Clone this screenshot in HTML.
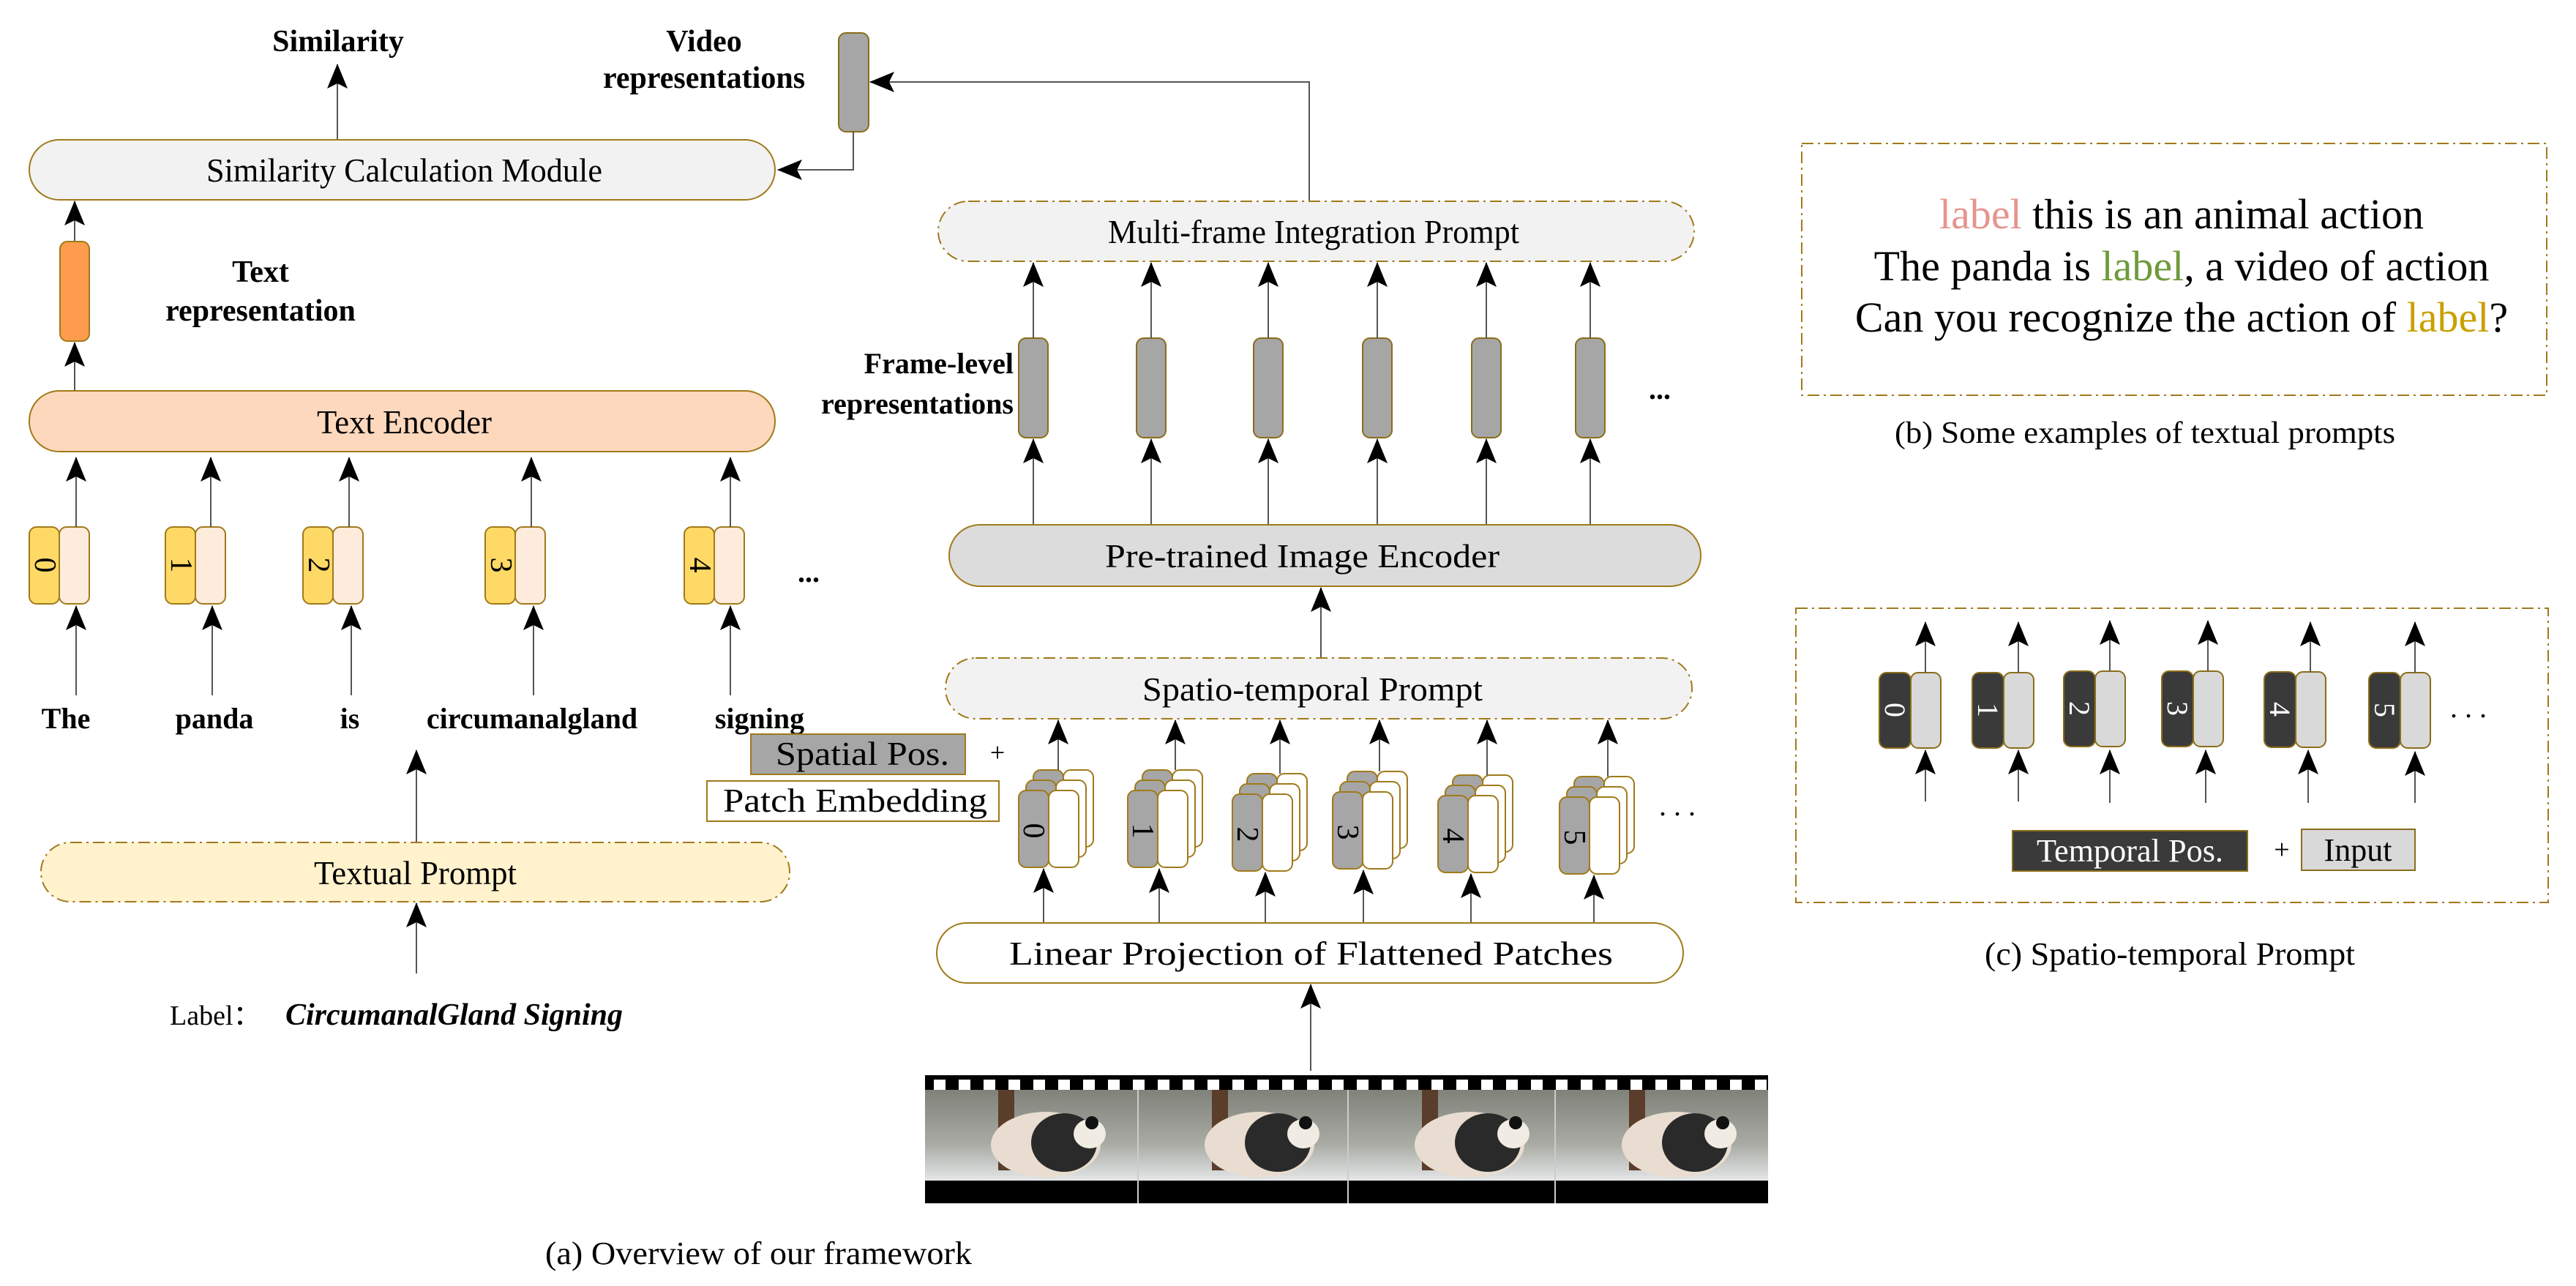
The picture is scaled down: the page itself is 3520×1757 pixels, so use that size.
<!DOCTYPE html>
<html><head><meta charset="utf-8"><style>
html,body{margin:0;padding:0;background:#fff}
svg{display:block}
text{font-family:"Liberation Serif",serif;fill:#000}
.b{font-weight:bold}
</style></head><body>
<svg width="3520" height="1757" viewBox="0 0 3520 1757" xmlns="http://www.w3.org/2000/svg">
<defs>
<marker id="a" markerWidth="34" markerHeight="28" refX="33" refY="14" orient="auto" markerUnits="userSpaceOnUse"><path d="M0,0 L34,14 L0,28 L7,14 z" fill="#000"/></marker>
<linearGradient id="snow" x1="0" y1="0" x2="0" y2="1"><stop offset="0" stop-color="#7f8279"/><stop offset="0.6" stop-color="#a9aba4"/><stop offset="1" stop-color="#e4e6e8"/></linearGradient>
<g id="frame">
<rect x="0" y="0" width="290" height="124" fill="url(#snow)"/>
<rect x="100" y="0" width="22" height="110" fill="#5a3d2a"/>
<ellipse cx="165" cy="75" rx="75" ry="45" fill="#e8ddd0"/>
<ellipse cx="190" cy="72" rx="45" ry="40" fill="#2a2a2a"/>
<ellipse cx="225" cy="60" rx="22" ry="20" fill="#f0ece4"/>
<circle cx="228" cy="45" r="9" fill="#111"/>
</g>
<g id="stk" stroke="#a07a1a" stroke-width="2">
<rect x="20" y="-28" width="41" height="105" rx="10" fill="#a6a6a6"/><rect x="61" y="-28" width="41" height="105" rx="10" fill="#fff"/>
<rect x="10" y="-14" width="41" height="105" rx="10" fill="#a6a6a6"/><rect x="51" y="-14" width="41" height="105" rx="10" fill="#fff"/>
<rect x="0" y="0" width="41" height="105" rx="10" fill="#a6a6a6"/><rect x="41" y="0" width="41" height="105" rx="10" fill="#fff"/>
</g>
</defs>

<!-- Top left -->
<text x="462" y="70" font-size="42" class="b" text-anchor="middle">Similarity</text>
<line x1="461" y1="191" x2="461" y2="88" stroke="#555" stroke-width="2" marker-end="url(#a)"/>
<text x="962" y="70" font-size="42" class="b" text-anchor="middle">Video</text>
<text x="962" y="120" font-size="42" class="b" text-anchor="middle">representations</text>
<rect x="1146" y="45" width="41" height="135" rx="10" fill="#a6a6a6" stroke="#8a6d1a" stroke-width="2"/>
<polyline points="1166,180 1166,232 1063,232" fill="none" stroke="#555" stroke-width="2" marker-end="url(#a)"/>
<polyline points="1789,275 1789,112 1189,112" fill="none" stroke="#555" stroke-width="2" marker-end="url(#a)"/>

<rect x="40" y="191" width="1019" height="82" rx="41" fill="#f2f2f2" stroke="#a07a1a" stroke-width="2"/>
<text x="282" y="248" font-size="46" textLength="541" lengthAdjust="spacingAndGlyphs">Similarity Calculation Module</text>

<line x1="102" y1="330" x2="102" y2="275" stroke="#555" stroke-width="2" marker-end="url(#a)"/>
<rect x="82" y="330" width="40" height="136" rx="10" fill="#fd9c4d" stroke="#a07a1a" stroke-width="2"/>
<line x1="102" y1="534" x2="102" y2="468" stroke="#555" stroke-width="2" marker-end="url(#a)"/>
<text x="356" y="385" font-size="42" class="b" text-anchor="middle">Text</text>
<text x="356" y="438" font-size="42" class="b" text-anchor="middle">representation</text>

<rect x="40" y="534" width="1019" height="83" rx="41" fill="#fdd8bd" stroke="#a07a1a" stroke-width="2"/>
<text x="433" y="592" font-size="46" textLength="239" lengthAdjust="spacingAndGlyphs">Text Encoder</text>

<!-- tokens -->
<g stroke="#a07a1a" stroke-width="2">
<rect x="40" y="720" width="41" height="105" rx="10" fill="#ffd966"/><rect x="81" y="720" width="41" height="105" rx="10" fill="#fdebdc"/>
<rect x="226" y="720" width="41" height="105" rx="10" fill="#ffd966"/><rect x="267" y="720" width="41" height="105" rx="10" fill="#fdebdc"/>
<rect x="414" y="720" width="41" height="105" rx="10" fill="#ffd966"/><rect x="455" y="720" width="41" height="105" rx="10" fill="#fdebdc"/>
<rect x="663" y="720" width="41" height="105" rx="10" fill="#ffd966"/><rect x="704" y="720" width="41" height="105" rx="10" fill="#fdebdc"/>
<rect x="935" y="720" width="41" height="105" rx="10" fill="#ffd966"/><rect x="976" y="720" width="41" height="105" rx="10" fill="#fdebdc"/>
</g>
<g font-size="42">
<text transform="translate(48,772) rotate(90)" text-anchor="middle">0</text>
<text transform="translate(234,772) rotate(90)" text-anchor="middle">1</text>
<text transform="translate(422,772) rotate(90)" text-anchor="middle">2</text>
<text transform="translate(671,772) rotate(90)" text-anchor="middle">3</text>
<text transform="translate(943,772) rotate(90)" text-anchor="middle">4</text>
</g>
<text x="1105" y="795" font-size="40" class="b" text-anchor="middle">...</text>
<g stroke="#555" stroke-width="2">
<line x1="104" y1="720" x2="104" y2="625" marker-end="url(#a)"/>
<line x1="288" y1="720" x2="288" y2="625" marker-end="url(#a)"/>
<line x1="477" y1="720" x2="477" y2="625" marker-end="url(#a)"/>
<line x1="726" y1="720" x2="726" y2="625" marker-end="url(#a)"/>
<line x1="998" y1="720" x2="998" y2="625" marker-end="url(#a)"/>
<line x1="104" y1="950" x2="104" y2="828" marker-end="url(#a)"/>
<line x1="290" y1="950" x2="290" y2="828" marker-end="url(#a)"/>
<line x1="480" y1="950" x2="480" y2="828" marker-end="url(#a)"/>
<line x1="729" y1="950" x2="729" y2="828" marker-end="url(#a)"/>
<line x1="998" y1="950" x2="998" y2="828" marker-end="url(#a)"/>
<line x1="569" y1="1151" x2="569" y2="1025" marker-end="url(#a)"/>
<line x1="569" y1="1330" x2="569" y2="1234" marker-end="url(#a)"/>
</g>
<g font-size="40" class="b" text-anchor="middle">
<text x="90" y="995">The</text><text x="293" y="995">panda</text><text x="478" y="995">is</text><text x="727" y="995">circumanalgland</text><text x="1038" y="995">signing</text>
</g>
<rect x="56" y="1151" width="1023" height="81" rx="40" fill="#fff2cc" stroke="#a07a1a" stroke-width="2" stroke-dasharray="16,6,3,6"/>
<text x="429" y="1208" font-size="46" textLength="277" lengthAdjust="spacingAndGlyphs">Textual Prompt</text>
<text x="232" y="1400" font-size="38" font-family="Liberation Mono, monospace">Label：</text>
<text x="390" y="1400" font-size="42" class="b" font-style="italic">CircumanalGland Signing</text>

<!-- middle -->
<rect x="1282" y="275" width="1033" height="82" rx="41" fill="#f2f2f2" stroke="#a07a1a" stroke-width="2" stroke-dasharray="16,6,3,6"/>
<text x="1514" y="332" font-size="46" textLength="562" lengthAdjust="spacingAndGlyphs">Multi-frame Integration Prompt</text>
<text x="1385" y="510" font-size="40" class="b" text-anchor="end">Frame-level</text>
<text x="1385" y="565" font-size="40" class="b" text-anchor="end">representations</text>
<g stroke="#8a6d1a" stroke-width="2" fill="#a6a6a6">
<rect x="1392" y="462" width="40" height="136" rx="10"/>
<rect x="1553" y="462" width="40" height="136" rx="10"/>
<rect x="1713" y="462" width="40" height="136" rx="10"/>
<rect x="1862" y="462" width="40" height="136" rx="10"/>
<rect x="2011" y="462" width="40" height="136" rx="10"/>
<rect x="2153" y="462" width="40" height="136" rx="10"/>
</g>
<text x="2268" y="545" font-size="40" class="b" text-anchor="middle">...</text>
<g stroke="#555" stroke-width="2">
<line x1="1412" y1="462" x2="1412" y2="359" marker-end="url(#a)"/>
<line x1="1573" y1="462" x2="1573" y2="359" marker-end="url(#a)"/>
<line x1="1733" y1="462" x2="1733" y2="359" marker-end="url(#a)"/>
<line x1="1882" y1="462" x2="1882" y2="359" marker-end="url(#a)"/>
<line x1="2031" y1="462" x2="2031" y2="359" marker-end="url(#a)"/>
<line x1="2173" y1="462" x2="2173" y2="359" marker-end="url(#a)"/>
<line x1="1412" y1="717" x2="1412" y2="600" marker-end="url(#a)"/>
<line x1="1573" y1="717" x2="1573" y2="600" marker-end="url(#a)"/>
<line x1="1733" y1="717" x2="1733" y2="600" marker-end="url(#a)"/>
<line x1="1882" y1="717" x2="1882" y2="600" marker-end="url(#a)"/>
<line x1="2031" y1="717" x2="2031" y2="600" marker-end="url(#a)"/>
<line x1="2173" y1="717" x2="2173" y2="600" marker-end="url(#a)"/>
<line x1="1805" y1="899" x2="1805" y2="803" marker-end="url(#a)"/>
</g>
<rect x="1297" y="717" width="1027" height="84" rx="42" fill="#dcdcdc" stroke="#a07a1a" stroke-width="2"/>
<text x="1510" y="775" font-size="46" textLength="539" lengthAdjust="spacingAndGlyphs">Pre-trained Image Encoder</text>

<rect x="1292" y="899" width="1020" height="83" rx="41" fill="#f2f2f2" stroke="#a07a1a" stroke-width="2" stroke-dasharray="16,6,3,6"/>
<text x="1561" y="957" font-size="46" textLength="465" lengthAdjust="spacingAndGlyphs">Spatio-temporal Prompt</text>

<rect x="1026" y="1003" width="293" height="55" fill="#a6a6a6" stroke="#a07a1a" stroke-width="2"/>
<text x="1060" y="1045" font-size="46" textLength="237" lengthAdjust="spacingAndGlyphs">Spatial Pos.</text>
<text x="1363" y="1040" font-size="36" text-anchor="middle">+</text>
<rect x="966" y="1067" width="399" height="55" fill="#fff" stroke="#a07a1a" stroke-width="2"/>
<text x="988" y="1109" font-size="46" textLength="361" lengthAdjust="spacingAndGlyphs">Patch Embedding</text>

<!-- patch stacks -->
<use href="#stk" x="1392" y="1080"/>
<use href="#stk" x="1541" y="1080"/>
<use href="#stk" x="1684" y="1085"/>
<use href="#stk" x="1821" y="1082"/>
<use href="#stk" x="1965" y="1087"/>
<use href="#stk" x="2131" y="1089"/>
<g font-size="42">
<text transform="translate(1399,1135) rotate(90)" text-anchor="middle">0</text>
<text transform="translate(1548,1135) rotate(90)" text-anchor="middle">1</text>
<text transform="translate(1691,1140) rotate(90)" text-anchor="middle">2</text>
<text transform="translate(1828,1137) rotate(90)" text-anchor="middle">3</text>
<text transform="translate(1972,1142) rotate(90)" text-anchor="middle">4</text>
<text transform="translate(2138,1144) rotate(90)" text-anchor="middle">5</text>
</g>
<text x="2292" y="1114" font-size="40" text-anchor="middle">. . .</text>
<g stroke="#555" stroke-width="2">
<line x1="1446" y1="1052" x2="1446" y2="984" marker-end="url(#a)"/>
<line x1="1606" y1="1052" x2="1606" y2="984" marker-end="url(#a)"/>
<line x1="1749" y1="1057" x2="1749" y2="984" marker-end="url(#a)"/>
<line x1="1885" y1="1054" x2="1885" y2="984" marker-end="url(#a)"/>
<line x1="2032" y1="1059" x2="2032" y2="984" marker-end="url(#a)"/>
<line x1="2197" y1="1061" x2="2197" y2="984" marker-end="url(#a)"/>
<line x1="1426" y1="1261" x2="1426" y2="1187" marker-end="url(#a)"/>
<line x1="1584" y1="1261" x2="1584" y2="1187" marker-end="url(#a)"/>
<line x1="1729" y1="1261" x2="1729" y2="1192" marker-end="url(#a)"/>
<line x1="1863" y1="1261" x2="1863" y2="1189" marker-end="url(#a)"/>
<line x1="2010" y1="1261" x2="2010" y2="1194" marker-end="url(#a)"/>
<line x1="2178" y1="1261" x2="2178" y2="1196" marker-end="url(#a)"/>
<line x1="1791" y1="1463" x2="1791" y2="1345" marker-end="url(#a)"/>
</g>
<rect x="1280" y="1261" width="1020" height="82" rx="41" fill="#fff" stroke="#a07a1a" stroke-width="2"/>
<text x="1379" y="1318" font-size="46" textLength="825" lengthAdjust="spacingAndGlyphs">Linear Projection of Flattened Patches</text>

<!-- film strip -->
<rect x="1264" y="1469" width="1157" height="175" fill="#000"/>
<g fill="#fff">
<rect x="1276" y="1475" width="16" height="14"/><rect x="1310" y="1475" width="16" height="14"/><rect x="1344" y="1475" width="16" height="14"/><rect x="1378" y="1475" width="16" height="14"/><rect x="1412" y="1475" width="16" height="14"/><rect x="1446" y="1475" width="16" height="14"/><rect x="1480" y="1475" width="16" height="14"/><rect x="1514" y="1475" width="16" height="14"/><rect x="1548" y="1475" width="16" height="14"/><rect x="1582" y="1475" width="16" height="14"/><rect x="1616" y="1475" width="16" height="14"/><rect x="1650" y="1475" width="16" height="14"/><rect x="1684" y="1475" width="16" height="14"/><rect x="1718" y="1475" width="16" height="14"/><rect x="1752" y="1475" width="16" height="14"/><rect x="1786" y="1475" width="16" height="14"/><rect x="1820" y="1475" width="16" height="14"/><rect x="1854" y="1475" width="16" height="14"/><rect x="1888" y="1475" width="16" height="14"/><rect x="1922" y="1475" width="16" height="14"/><rect x="1956" y="1475" width="16" height="14"/><rect x="1990" y="1475" width="16" height="14"/><rect x="2024" y="1475" width="16" height="14"/><rect x="2058" y="1475" width="16" height="14"/><rect x="2092" y="1475" width="16" height="14"/><rect x="2126" y="1475" width="16" height="14"/><rect x="2160" y="1475" width="16" height="14"/><rect x="2194" y="1475" width="16" height="14"/><rect x="2228" y="1475" width="16" height="14"/><rect x="2262" y="1475" width="16" height="14"/><rect x="2296" y="1475" width="16" height="14"/><rect x="2330" y="1475" width="16" height="14"/><rect x="2364" y="1475" width="16" height="14"/><rect x="2398" y="1475" width="16" height="14"/>
</g>
<use href="#frame" x="1264" y="1489"/>
<use href="#frame" x="1556" y="1489"/>
<use href="#frame" x="1843" y="1489"/>
<use href="#frame" x="2126" y="1489"/>
<rect x="1554" y="1489" width="2" height="155" fill="#ccc"/>
<rect x="1841" y="1489" width="2" height="155" fill="#ccc"/>
<rect x="2124" y="1489" width="2" height="155" fill="#ccc"/>
<rect x="2416" y="1460" width="10" height="190" fill="#fff"/>

<text x="745" y="1727" font-size="44" textLength="583" lengthAdjust="spacingAndGlyphs">(a)    Overview of our framework</text>

<!-- (b) -->
<rect x="2462" y="196" width="1018" height="344" fill="none" stroke="#a07a1a" stroke-width="2" stroke-dasharray="16,6,3,6"/>
<g font-size="58" text-anchor="middle">
<text x="2981" y="312"><tspan style="fill:#e6958f">label</tspan> this is an animal action</text>
<text x="2981" y="383">The panda is <tspan style="fill:#6f9a3c">label</tspan>, a video of action</text>
<text x="2981" y="453">Can you recognize the action of <tspan style="fill:#c9a000">label</tspan>?</text>
</g>
<text x="2589" y="605" font-size="42" textLength="684" lengthAdjust="spacingAndGlyphs">(b)  Some examples of textual prompts</text>

<!-- (c) -->
<rect x="2454" y="831" width="1028" height="402" fill="none" stroke="#a07a1a" stroke-width="2" stroke-dasharray="16,6,3,6"/>
<g stroke="#8a6d1a" stroke-width="2">
<rect x="2568" y="919" width="43" height="103" rx="10" fill="#3a3a3a"/><rect x="2611" y="919" width="41" height="103" rx="10" fill="#d9d9d9"/>
<rect x="2695" y="919" width="43" height="103" rx="10" fill="#3a3a3a"/><rect x="2738" y="919" width="41" height="103" rx="10" fill="#d9d9d9"/>
<rect x="2820" y="917" width="43" height="103" rx="10" fill="#3a3a3a"/><rect x="2863" y="917" width="41" height="103" rx="10" fill="#d9d9d9"/>
<rect x="2954" y="917" width="43" height="103" rx="10" fill="#3a3a3a"/><rect x="2997" y="917" width="41" height="103" rx="10" fill="#d9d9d9"/>
<rect x="3094" y="918" width="43" height="103" rx="10" fill="#3a3a3a"/><rect x="3137" y="918" width="41" height="103" rx="10" fill="#d9d9d9"/>
<rect x="3237" y="919" width="43" height="103" rx="10" fill="#3a3a3a"/><rect x="3280" y="919" width="41" height="103" rx="10" fill="#d9d9d9"/>
</g>
<g font-size="40">
<text transform="translate(2576,970) rotate(90)" text-anchor="middle" style="fill:#fff">0</text>
<text transform="translate(2703,970) rotate(90)" text-anchor="middle" style="fill:#fff">1</text>
<text transform="translate(2828,968) rotate(90)" text-anchor="middle" style="fill:#fff">2</text>
<text transform="translate(2962,968) rotate(90)" text-anchor="middle" style="fill:#fff">3</text>
<text transform="translate(3102,969) rotate(90)" text-anchor="middle" style="fill:#fff">4</text>
<text transform="translate(3245,970) rotate(90)" text-anchor="middle" style="fill:#fff">5</text>
</g>
<text x="3373" y="980" font-size="40" text-anchor="middle">. . .</text>
<g stroke="#555" stroke-width="2">
<line x1="2631" y1="919" x2="2631" y2="850" marker-end="url(#a)"/>
<line x1="2758" y1="919" x2="2758" y2="850" marker-end="url(#a)"/>
<line x1="2883" y1="917" x2="2883" y2="848" marker-end="url(#a)"/>
<line x1="3017" y1="917" x2="3017" y2="848" marker-end="url(#a)"/>
<line x1="3157" y1="918" x2="3157" y2="850" marker-end="url(#a)"/>
<line x1="3300" y1="919" x2="3300" y2="850" marker-end="url(#a)"/>
<line x1="2631" y1="1095" x2="2631" y2="1025" marker-end="url(#a)"/>
<line x1="2758" y1="1095" x2="2758" y2="1025" marker-end="url(#a)"/>
<line x1="2883" y1="1097" x2="2883" y2="1025" marker-end="url(#a)"/>
<line x1="3014" y1="1097" x2="3014" y2="1025" marker-end="url(#a)"/>
<line x1="3154" y1="1097" x2="3154" y2="1025" marker-end="url(#a)"/>
<line x1="3300" y1="1097" x2="3300" y2="1027" marker-end="url(#a)"/>
</g>
<rect x="2750" y="1135" width="321" height="55" fill="#3a3a3a" stroke="#8a6d1a" stroke-width="2"/>
<text x="2783" y="1177" font-size="44" textLength="255" lengthAdjust="spacingAndGlyphs" style="fill:#fff">Temporal Pos.</text>
<text x="3118" y="1173" font-size="38" text-anchor="middle">+</text>
<rect x="3145" y="1133" width="155" height="56" fill="#d9d9d9" stroke="#8a6d1a" stroke-width="2"/>
<text x="3222" y="1176" font-size="44" text-anchor="middle">Input</text>
<text x="2712" y="1318" font-size="44" textLength="506" lengthAdjust="spacingAndGlyphs">(c)   Spatio-temporal Prompt</text>
</svg>
</body></html>
